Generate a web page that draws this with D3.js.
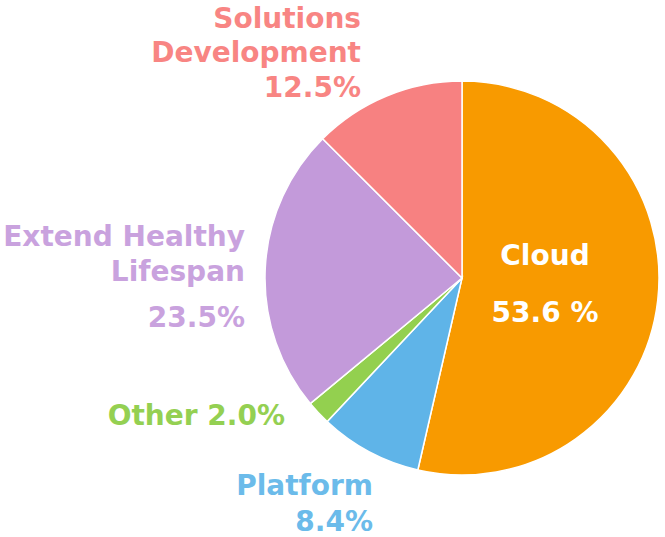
<!DOCTYPE html>
<html>
<head>
<meta charset="utf-8">
<script src="https://cdn.jsdelivr.net/npm/d3@7/dist/d3.min.js"></script>
<style>
  html, body { margin: 0; padding: 0; background: #fff; }
  svg text { font-family: "DejaVu Sans", "Noto Sans", sans-serif; font-weight: bold; }
</style>
</head>
<body>
<div id="chart"></div>
<script>
/* data */
const categories = ["Cloud", "Platform", "Other", "Extend Healthy Lifespan", "Solutions Development"];
const shares = [53.6, 8.4, 2.0, 23.5, 12.5];
const shareLabels = ["53.6 %", "8.4%", "2.0%", "23.5%", "12.5%"];
const colors = ["#F89A00", "#5FB4E8", "#93D04F", "#C39ADA", "#F78181"];
const textColors = ["#FFFFFF", "#6BBBEA", "#94D052", "#C9A2DE", "#F88583"];

/* label layout (text lines, anchor point, line step) */
const labelLines = [
    ["Cloud", shareLabels[0]],
    ["Platform", shareLabels[1]],
    ["Other " + shareLabels[2]],
    ["Extend Healthy", "Lifespan", shareLabels[3]],
    ["Solutions", "Development", shareLabels[4]]
];
const labelLayout = [
    { x: 545, y: 265, anchor: "middle", steps: [0, 57] },
    { x: 373, y: 495, anchor: "end", steps: [0, 36] },
    { x: 285, y: 425, anchor: "end", steps: [0] },
    { x: 245, y: 246, anchor: "end", steps: [0, 35, 81] },
    { x: 361, y: 28, anchor: "end", steps: [0, 34, 69] }
];

const width = 665, height = 537;
const cx = 462, cy = 278, radius = 197;

const svg = d3.select("#chart").append("svg")
    .attr("width", width)
    .attr("height", height);

const pie = d3.pie().sort(null).value(d => d)(shares);
const arc = d3.arc().innerRadius(0).outerRadius(radius);

svg.append("g")
    .attr("transform", `translate(${cx},${cy})`)
    .selectAll("path")
    .data(pie)
    .enter()
    .append("path")
    .attr("d", arc)
    .attr("fill", (d, i) => colors[i])
    .attr("stroke", "#fff")
    .attr("stroke-width", 1.5);

// labels
const labels = svg.append("g");
labelLines.forEach((lines, i) => {
    const lay = labelLayout[i];
    lines.forEach((t, j) => {
        labels.append("text")
            .attr("x", lay.x)
            .attr("y", lay.y + lay.steps[j])
            .attr("text-anchor", lay.anchor)
            .attr("fill", textColors[i])
            .style("font-size", "28px")
            .text(t);
    });
});
</script>
</body>
</html>
